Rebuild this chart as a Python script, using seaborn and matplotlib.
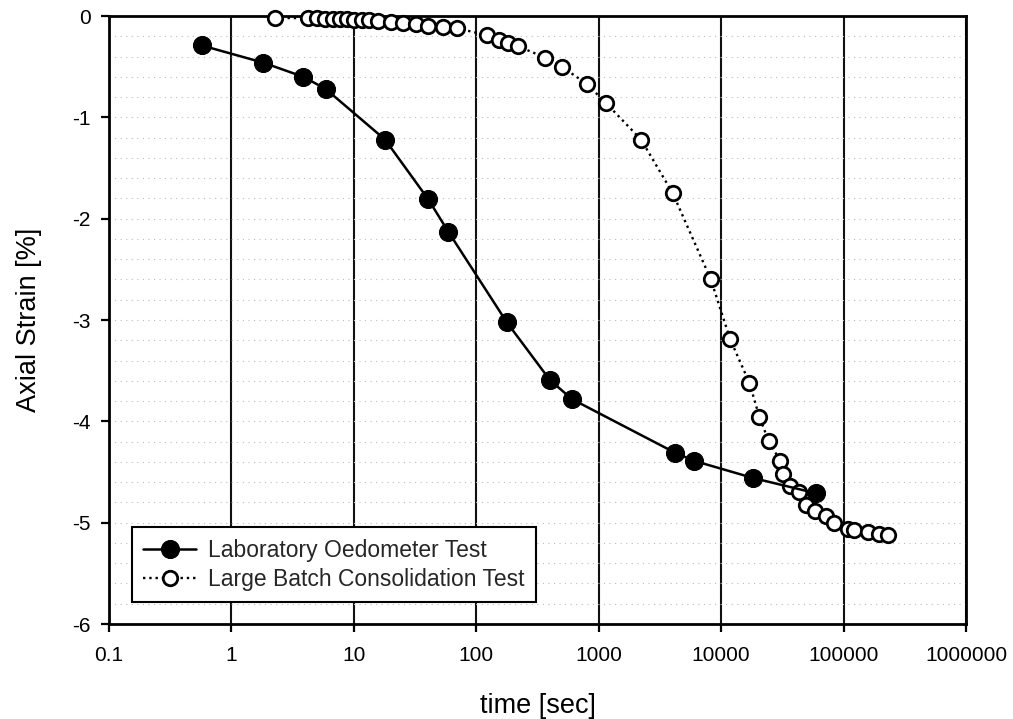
import numpy as np
import pandas as pd
import matplotlib
matplotlib.use("Agg")
import matplotlib.pyplot as plt
import seaborn as sns
from matplotlib.ticker import FixedLocator, FuncFormatter, MultipleLocator, NullLocator

# Laboratory oedometer test (time in s, axial strain in %)
lab_time = [0.571, 1.82, 3.87, 5.89, 18.0, 40.6, 59.2, 177, 398, 603,
            4210, 6020, 18370, 59700]
lab_strain = [-0.29, -0.46, -0.60, -0.72, -1.22, -1.81, -2.13, -3.02, -3.59, -3.78,
              -4.31, -4.39, -4.56, -4.71]

# Large batch consolidation test
batch_time = [2.27, 4.23, 5.00, 5.82, 6.77, 7.71, 8.80, 10.0, 11.7, 13.3,
              15.8, 20.1, 25.2, 32.2, 40.4, 53.5, 69.6, 122, 152, 183,
              221, 365, 499, 800, 1149, 2220, 4030, 8240, 11850, 17030,
              20560, 24380, 30340, 31900, 36600, 43400, 49200, 58600, 72100, 83800,
              107700, 122800, 159700, 196500, 230000]
batch_strain = [-0.02, -0.02, -0.02, -0.03, -0.03, -0.03, -0.03, -0.04, -0.04, -0.04,
                -0.05, -0.06, -0.07, -0.08, -0.10, -0.11, -0.12, -0.19, -0.24, -0.27,
                -0.30, -0.41, -0.50, -0.67, -0.86, -1.22, -1.75, -2.60, -3.19, -3.62,
                -3.96, -4.19, -4.39, -4.52, -4.64, -4.70, -4.83, -4.88, -4.93, -5.00,
                -5.06, -5.07, -5.09, -5.11, -5.12]

x_ticks = [0.1, 1, 10, 100, 1000, 10000, 100000, 1000000]
x_tick_labels = ["0.1", "1", "10", "100", "1000", "10000", "100000", "1000000"]
y_ticks = [0, -1, -2, -3, -4, -5, -6]

lab = pd.DataFrame({"time": lab_time, "strain": lab_strain})
batch = pd.DataFrame({"time": batch_time, "strain": batch_strain})

sns.set_theme(style="white")
plt.rcParams["font.family"] = ["Liberation Sans", "DejaVu Sans"]
plt.rcParams["axes.unicode_minus"] = False

fig = plt.figure(figsize=(10.13, 7.19), dpi=100)
ax = fig.add_axes([0.1076, 0.1321, 0.846, 0.8456])

sns.lineplot(data=batch, x="time", y="strain", ax=ax, sort=False, estimator=None,
             color="black", linewidth=1.7, linestyle=":", marker="o", markersize=10.4,
             markerfacecolor="white", markeredgecolor="black", markeredgewidth=2.0,
             label="Large Batch Consolidation Test", zorder=3, clip_on=False)
sns.lineplot(data=lab, x="time", y="strain", ax=ax, sort=False, estimator=None,
             color="black", linewidth=1.8, marker="o", markersize=13,
             markerfacecolor="black", markeredgecolor="black",
             label="Laboratory Oedometer Test", zorder=4, clip_on=False)

ax.set_xscale("log")
ax.set_xlim(0.1, 1e6)
ax.set_ylim(-6, 0)

ax.xaxis.set_major_locator(FixedLocator(x_ticks))
ax.xaxis.set_major_formatter(FuncFormatter(lambda v, p: x_tick_labels[x_ticks.index(v)] if v in x_ticks else ""))
ax.xaxis.set_minor_locator(NullLocator())
ax.yaxis.set_major_locator(FixedLocator(y_ticks))
ax.yaxis.set_major_formatter(FuncFormatter(lambda v, p: f"{v:.0f}"))
ax.yaxis.set_minor_locator(MultipleLocator(0.2))

# Grid: strong decade lines, faint dotted strain lines
ax.grid(which="major", axis="x", color="#111111", linewidth=1.5, linestyle="-")
ax.grid(which="both", axis="y", color="#bdbdbd", linewidth=0.8, linestyle=(0, (1, 4)))
ax.set_axisbelow(True)

for side in ["left", "bottom", "top", "right"]:
    ax.spines[side].set_visible(True)
    ax.spines[side].set_color("black")
    ax.spines[side].set_linewidth(2.0)

ax.tick_params(axis="both", which="major", direction="out", length=6, width=1.6,
               color="black", labelsize=15, labelcolor="black", left=True, bottom=True)
ax.tick_params(axis="x", which="major", pad=10)
ax.tick_params(axis="y", which="major", pad=7)
ax.tick_params(axis="y", which="minor", length=0)

ax.set_xlabel("time [sec]", fontsize=19.5, labelpad=20, color="black")
ax.set_ylabel("Axial Strain [%]", fontsize=19.5, labelpad=22, color="black")

handles, labels = ax.get_legend_handles_labels()
order = [labels.index("Laboratory Oedometer Test"), labels.index("Large Batch Consolidation Test")]
leg = ax.legend([handles[i] for i in order], [labels[i] for i in order],
                loc="lower left", bbox_to_anchor=(0.0268, 0.036), borderaxespad=0,
                frameon=True, fancybox=False, framealpha=1, edgecolor="black",
                fontsize=16.5, handlelength=2.3, handletextpad=0.5, labelspacing=0.25,
                borderpad=0.5)
leg.get_frame().set_linewidth(1.5)
leg.set_zorder(6)

fig.savefig("out.png", dpi=100, facecolor="white")
